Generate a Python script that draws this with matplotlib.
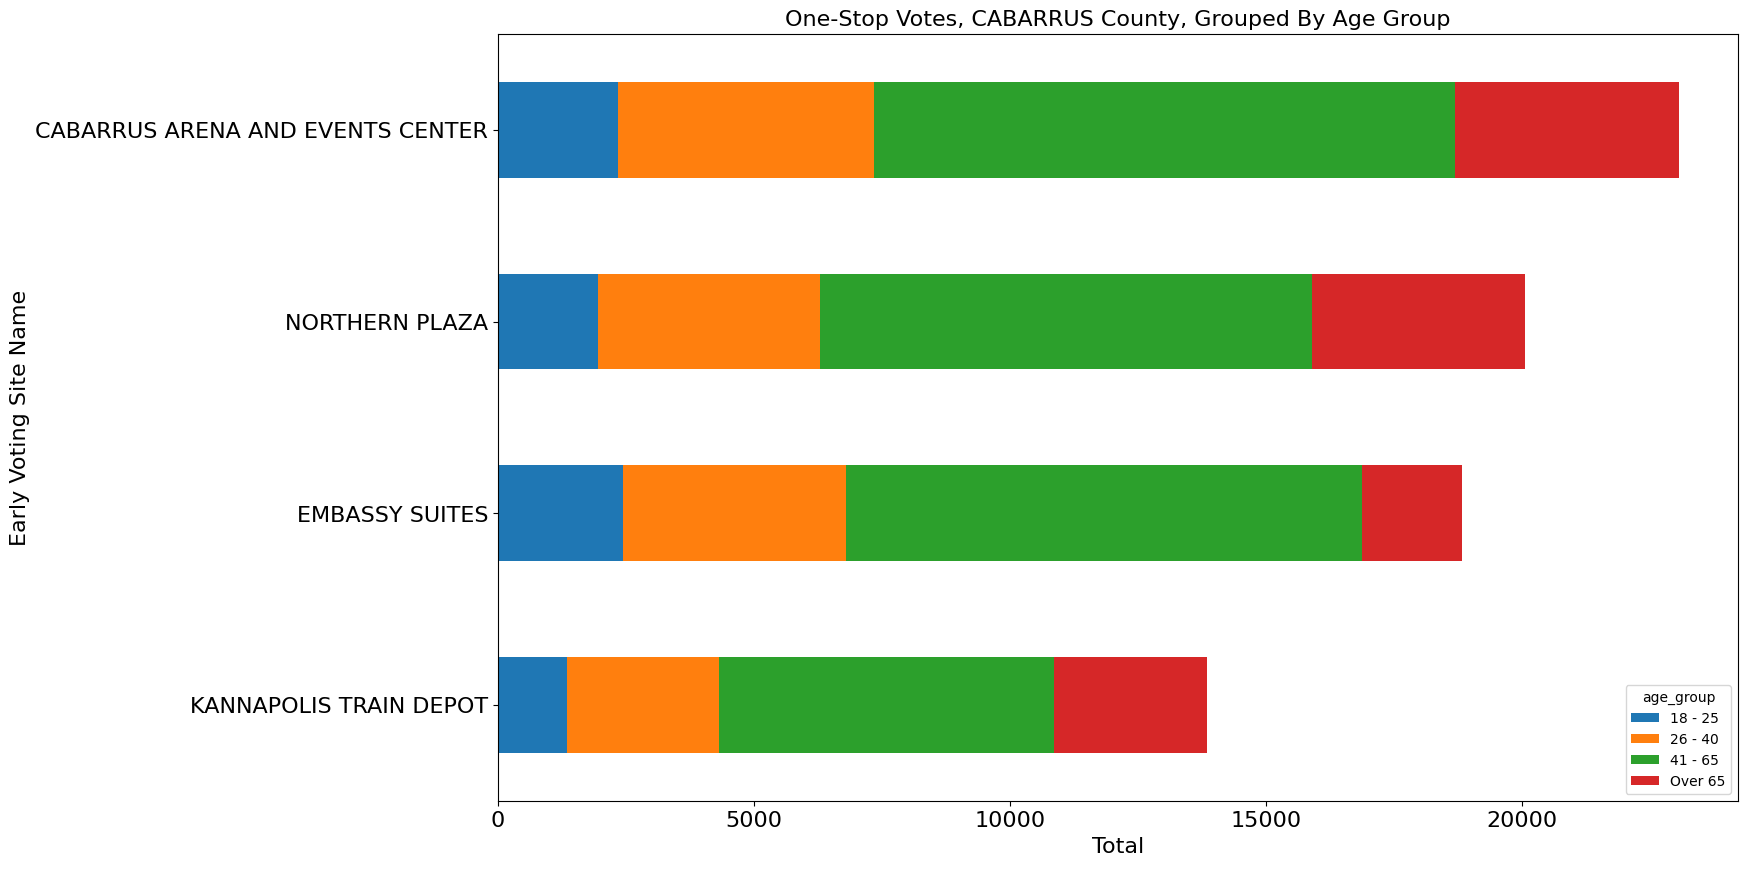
import numpy as np
import matplotlib.pyplot as plt

# voting sites, bottom to top
sites = ["KANNAPOLIS TRAIN DEPOT", "EMBASSY SUITES", "NORTHERN PLAZA",
         "CABARRUS ARENA AND EVENTS CENTER"]
age_groups = ["18 - 25", "26 - 40", "41 - 65", "Over 65"]

age_18_25 = [1344, 2441, 1946, 2348]
age_26_40 = [2981, 4355, 4341, 5004]
age_41_65 = [6534, 10071, 9607, 11338]
age_over65 = [2981, 1962, 4156, 4372]

series = [age_18_25, age_26_40, age_41_65, age_over65]
colors = ["#1f77b4", "#ff7f0e", "#2ca02c", "#d62728"]

fig = plt.figure(figsize=(17.48, 8.695), dpi=100)
ax = fig.add_axes([0.2849, 0.0785, 0.7094, 0.8818])

y = np.arange(len(sites))
left = np.zeros(len(sites))
for vals, name, c in zip(series, age_groups, colors):
    ax.barh(y, vals, height=0.5, left=left, color=c, label=name)
    left += np.array(vals)

ax.set_ylim(-0.5, 3.5)
ax.set_xlim(0, left.max() * 1.05)
ax.set_yticks(y)
ax.set_yticklabels(sites)
ax.tick_params(axis="both", labelsize=16)
ax.set_xlabel("Total", fontsize=16)
ax.set_ylabel("Early Voting Site Name", fontsize=16)
ax.set_title("One-Stop Votes, CABARRUS County, Grouped By Age Group", fontsize=16)
ax.legend(title="age_group", loc="lower right")

fig.savefig("out.png", dpi=100)
